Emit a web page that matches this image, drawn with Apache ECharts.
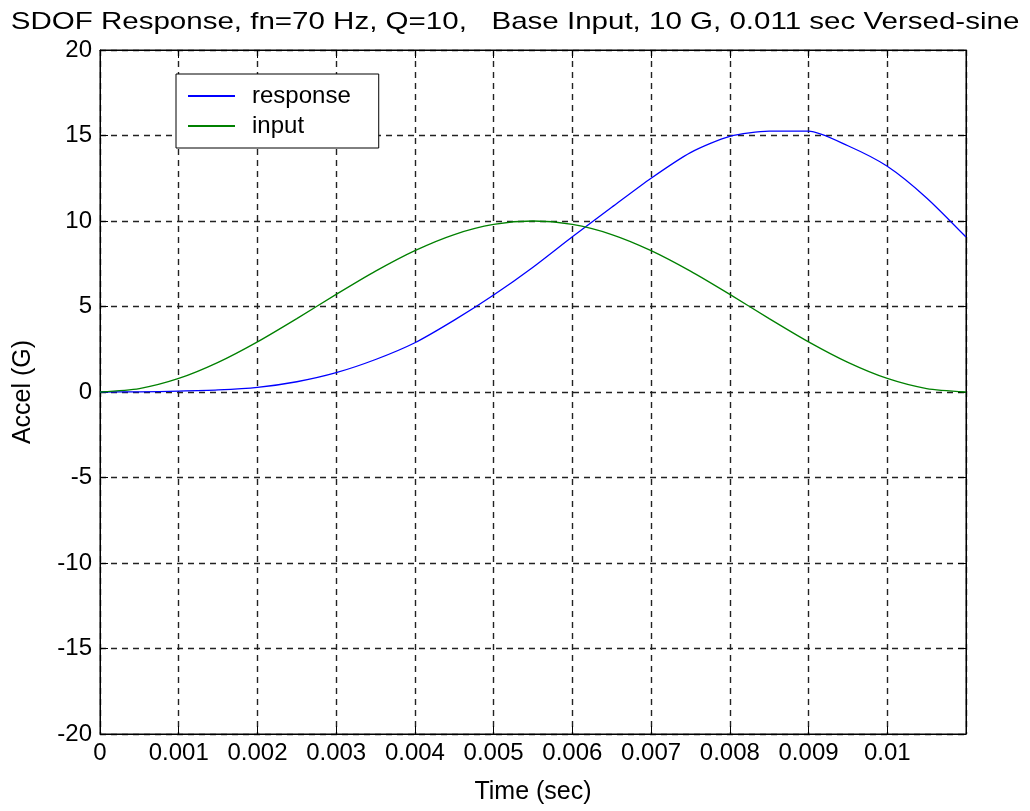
<!DOCTYPE html>
<html>
<head>
<meta charset="utf-8">
<script src="https://cdn.jsdelivr.net/npm/echarts@6/dist/echarts.min.js"></script>
<style>
    html, body { margin: 0; padding: 0; background: #ffffff; }
    #chart { width: 1030px; height: 811px; }
</style>
</head>
<body>
<div id="chart"></div>
<script>
    // time points (sec)
    var time = [0, 0.0005, 0.001, 0.0015, 0.002, 0.0025, 0.003, 0.0035, 0.004, 0.0045, 0.005, 0.0055,
        0.006, 0.0065, 0.007, 0.0075, 0.008, 0.0085, 0.009, 0.0095, 0.01, 0.0105, 0.011];
    // SDOF response (G)
    var response = [0, 0.01, 0.05, 0.12, 0.27, 0.6, 1.13, 1.9, 2.88, 4.2, 5.67, 7.3,
        9.08, 10.8, 12.5, 14.0, 14.95, 15.25, 15.26, 14.4, 13.2, 11.35, 9.06];
    // base input (G)
    var input = [0, 0.2, 0.79, 1.73, 2.93, 4.29, 5.71, 7.07, 8.27, 9.21, 9.8, 10.0,
        9.8, 9.21, 8.27, 7.07, 5.71, 4.29, 2.93, 1.73, 0.79, 0.2, 0];
    var yTicks = [-20, -15, -10, -5, 0, 5, 10, 15, 20];
    var titleText = 'SDOF Response, fn=70 Hz, Q=10,   Base Input, 10 G, 0.011 sec Versed-sine';

    function pairs(xs, ys) {
        return xs.map(function (x, i) { return [x, ys[i]]; });
    }

    var font = 'Liberation Sans, Arial, sans-serif';
    var dashed = { show: true, lineStyle: { color: '#222', type: [6, 5], width: 1.4 } };
    var tick = { show: true, inside: true, length: 8, lineStyle: { color: '#000' } };

    var myChart = echarts.init(document.getElementById('chart'));
    var option = {
        animation: false,
        backgroundColor: '#ffffff',
        // title as graphic so it can be stretched to the reference width
        graphic: [{
            type: 'text',
            x: 515,
            y: 22,
            scaleX: 1.23,
            style: {
                text: titleText,
                font: '24px ' + font,
                fill: '#000',
                align: 'center',
                verticalAlign: 'middle'
            }
        }],
        legend: {
            left: 176,
            top: 74,
            orient: 'vertical',
            icon: 'rect',
            itemWidth: 47,
            itemHeight: 2,
            itemGap: 6,
            padding: [10, 28, 10, 12],
            borderColor: '#000',
            borderWidth: 1,
            backgroundColor: '#fff',
            textStyle: { fontFamily: font, fontSize: 24, color: '#000', padding: [0, 0, 0, 12] },
            data: ['response', 'input']
        },
        grid: {
            left: 100,
            top: 50,
            width: 866,
            height: 684,
            show: true,
            borderColor: '#000',
            borderWidth: 1
        },
        xAxis: [{
            type: 'value',
            min: 0,
            max: 0.011,
            interval: 0.001,
            name: 'Time (sec)',
            nameLocation: 'middle',
            nameGap: 46,
            nameTextStyle: { fontFamily: font, fontSize: 25, color: '#000' },
            axisLine: { show: true, onZero: false, lineStyle: { color: '#000' } },
            axisTick: tick,
            axisLabel: {
                fontFamily: font, fontSize: 24, color: '#000', margin: 7,
                showMaxLabel: false,
                formatter: function (v) { return v > 0.0105 ? '' : String(+v.toFixed(3)); }
            },
            splitLine: dashed
        }, {
            type: 'value',
            position: 'top',
            min: 0,
            max: 0.011,
            interval: 0.001,
            axisLine: { show: true, onZero: false, lineStyle: { color: '#000' } },
            axisTick: tick,
            axisLabel: { show: false },
            splitLine: { show: false }
        }],
        yAxis: [{
            type: 'value',
            min: yTicks[0],
            max: yTicks[yTicks.length - 1],
            interval: 5,
            name: 'Accel (G)',
            nameLocation: 'middle',
            nameGap: 64,
            nameTextStyle: { fontFamily: font, fontSize: 25, color: '#000' },
            axisLine: { show: true, onZero: false, lineStyle: { color: '#000' } },
            axisTick: tick,
            axisLabel: { fontFamily: font, fontSize: 24, color: '#000', margin: 8 },
            splitLine: dashed
        }, {
            type: 'value',
            position: 'right',
            min: yTicks[0],
            max: yTicks[yTicks.length - 1],
            interval: 5,
            axisLine: { show: true, onZero: false, lineStyle: { color: '#000' } },
            axisTick: tick,
            axisLabel: { show: false },
            splitLine: { show: false }
        }],
        series: [
            {
                name: 'response',
                type: 'line',
                data: pairs(time, response),
                smooth: 0.25,
                symbol: 'none',
                lineStyle: { color: '#0000ff', width: 1.3 },
                itemStyle: { color: '#0000ff' }
            },
            {
                name: 'input',
                type: 'line',
                data: pairs(time, input),
                smooth: 0.25,
                symbol: 'none',
                lineStyle: { color: '#008000', width: 1.3 },
                itemStyle: { color: '#008000' }
            }
        ]
    };
    myChart.setOption(option);
</script>
</body>
</html>
